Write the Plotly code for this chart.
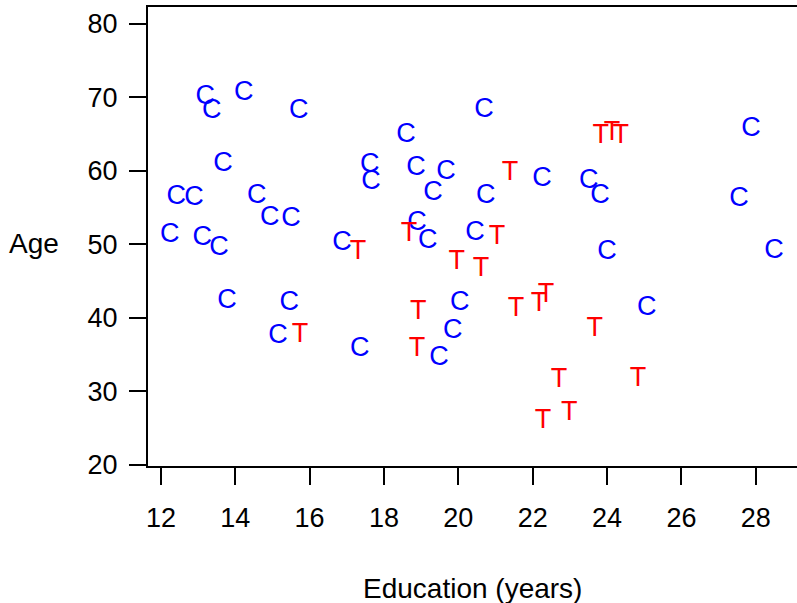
import plotly.graph_objects as go

# Control group (C)
ctrl_edu = [13.19, 13.37, 14.23, 15.71, 13.67, 12.41, 12.89, 14.58, 14.93, 15.50,
            12.24, 13.11, 13.56, 16.87, 13.78, 15.45, 15.15, 17.35,
            18.59, 20.69, 17.62, 17.65, 18.86, 19.67, 19.32, 20.74, 22.25, 18.89,
            19.18, 20.45, 20.04, 19.85, 19.48,
            23.51, 23.81, 24.00, 27.87, 27.55, 28.49, 25.07]
ctrl_age = [70.47, 68.56, 71.01, 68.56, 61.34, 56.85, 56.71, 56.98, 53.99, 53.85,
            51.67, 51.27, 49.90, 50.58, 42.69, 42.41, 37.92, 36.15,
            65.29, 68.70, 61.21, 58.89, 60.80, 60.25, 57.39, 56.98, 59.30, 53.31,
            50.86, 51.95, 42.41, 38.60, 34.92,
            59.03, 56.98, 49.36, 66.11, 56.58, 49.49, 41.73]

# Treatment group (T)
treat_edu = [17.30, 15.74, 21.39, 18.67, 21.04, 19.96, 20.61, 18.92, 18.89, 21.55,
             22.17, 22.36, 22.71, 22.98, 22.28, 23.83, 24.13, 24.37, 23.67, 24.83]
treat_age = [49.36, 38.06, 60.12, 51.81, 51.40, 48.00, 47.04, 41.19, 36.15, 41.60,
             42.28, 43.50, 31.93, 27.43, 26.34, 65.16, 65.56, 65.16, 38.87, 32.06]

x_ticks = [12, 14, 16, 18, 20, 22, 24, 26, 28]
y_ticks = [20, 30, 40, 50, 60, 70, 80]

FONT = "Liberation Sans, Arial, Helvetica, sans-serif"
MARK_SIZE = 27
TICK_SIZE = 27
TITLE_SIZE = 28

Y_RANGE = [19.807, 82.315]
# plotly draws a centred text glyph ~3px above its anchor; a hidden overlay
# axis compensates so glyph centres land on the data values
Y_SHIFT = 3.0 / 7.343
Y_RANGE_TEXT = [Y_RANGE[0] + Y_SHIFT, Y_RANGE[1] + Y_SHIFT]

fig = go.Figure()
# empty trace so the visible primary y axis keeps its subplot
fig.add_trace(go.Scatter(x=[None], y=[None], mode="markers", showlegend=False,
                         hoverinfo="skip"))
fig.add_trace(go.Scatter(x=ctrl_edu, y=ctrl_age, mode="text", text=["C"] * len(ctrl_edu),
                         textposition="middle center", yaxis="y2",
                         textfont=dict(family=FONT, size=MARK_SIZE, color="#0000FF"),
                         showlegend=False, hoverinfo="skip"))
fig.add_trace(go.Scatter(x=treat_edu, y=treat_age, mode="text", text=["T"] * len(treat_edu),
                         textposition="middle center", yaxis="y2",
                         textfont=dict(family=FONT, size=MARK_SIZE, color="#FF0000"),
                         showlegend=False, hoverinfo="skip"))

axis_common = dict(showgrid=False, zeroline=False, showline=True, linewidth=2, linecolor="black",
                   ticks="outside", ticklen=17, tickwidth=2, tickcolor="black",
                   tickfont=dict(family=FONT, size=TICK_SIZE, color="black"))

fig.update_layout(
    width=797, height=603, autosize=False,
    margin=dict(l=148, r=0, t=7, b=137, pad=0),
    plot_bgcolor="white", paper_bgcolor="white",
    xaxis=dict(range=[11.653, 29.109], tickvals=x_ticks, ticktext=[str(v) for v in x_ticks],
               mirror=True, ticklabelstandoff=10, **axis_common),
    yaxis=dict(range=Y_RANGE, tickvals=y_ticks, ticktext=[str(v) for v in y_ticks],
               ticklabelstandoff=6, **axis_common),
    yaxis2=dict(range=Y_RANGE_TEXT, overlaying="y", visible=False, showgrid=False,
                zeroline=False),
    annotations=[
        dict(text="Age", xref="paper", yref="paper", x=-0.2168, y=0.4858,
             xanchor="left", yanchor="middle", showarrow=False,
             font=dict(family=FONT, size=TITLE_SIZE, color="black")),
        dict(text="Education (years)", xref="paper", yref="paper", x=0.5, y=-0.2658,
             xanchor="center", yanchor="middle", showarrow=False,
             font=dict(family=FONT, size=TITLE_SIZE, color="black")),
    ],
)

fig.write_html("out.html")
